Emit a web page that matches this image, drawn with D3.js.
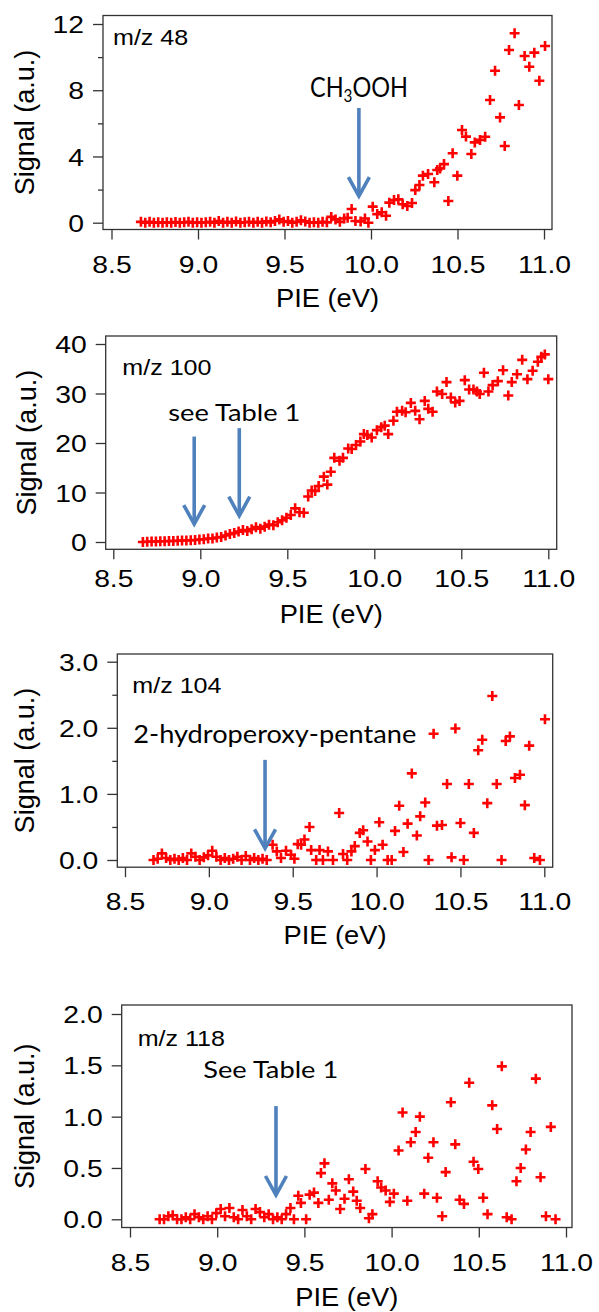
<!DOCTYPE html>
<html>
<head>
<meta charset="utf-8">
<script src="https://cdn.jsdelivr.net/npm/d3@7"></script>
<style>
body { margin: 0; background: #fff; }
</style>
</head>
<body>
<div id="chart"></div>
<script>
// ---- data (PIE in eV, signal in a.u.) ----
var pie48 = [8.67, 8.695, 8.72, 8.745, 8.77, 8.795, 8.82, 8.845, 8.87, 8.895, 8.92, 8.945, 8.97, 8.995, 9.02, 9.045, 9.07, 9.095, 9.12, 9.145, 9.17, 9.195, 9.22, 9.245, 9.27, 9.295, 9.32, 9.345, 9.37, 9.395, 9.42, 9.445, 9.47, 9.495, 9.52, 9.545, 9.57, 9.595, 9.62, 9.645, 9.67, 9.695, 9.72, 9.745, 9.77, 9.795, 9.82, 9.845, 9.865,
  9.888, 9.91, 9.94, 9.965, 9.985,
  10.01, 10.036, 10.062, 10.087, 10.106, 10.133, 10.158, 10.183, 10.21, 10.237, 10.256, 10.28, 10.30, 10.33, 10.366, 10.383, 10.399, 10.422, 10.447, 10.472, 10.499, 10.526, 10.549, 10.58, 10.60, 10.63, 10.66, 10.688, 10.717, 10.746, 10.773, 10.798, 10.83, 10.855, 10.888, 10.915, 10.944, 10.973, 11.006];
var sig48 = [0.05, 0, 0.05, 0, 0.03, 0, 0.02, 0, 0.04, 0, 0.02, 0.05, 0, 0.03, 0, 0.02, 0.05, 0, 0.1, 0, 0.05, 0, 0.08, 0, 0.03, 0.05, 0, 0.05, 0, 0.08, 0.02, 0.1, 0.2, 0.05, 0.1, 0, 0.05, 0.15, 0.08, 0, 0.03, 0, 0.05, 0.02, 0.35, 0.2, 0.05, 0.25, 0.3,
  0.83, 0.1, 0.08, 0.25, 0.0,
  0.97, 0.52, 0.63, 0.42, 1.21, 1.37, 1.41, 1.11, 1.01, 1.19, 1.97, 2.28, 2.84, 2.94, 2.44, 3.18, 3.28, 3.54, 1.31, 4.19, 2.84, 5.6, 5.2, 4.15, 4.85, 5.0, 5.19, 7.41, 9.18, 6.36, 4.63, 10.43, 11.44, 7.11, 10.07, 9.42, 10.27, 8.57, 10.67];

var pie100 = [8.67, 8.695, 8.72, 8.745, 8.77, 8.795, 8.82, 8.845, 8.87, 8.895, 8.92, 8.945, 8.97, 8.995, 9.02, 9.045, 9.07, 9.095, 9.12, 9.145, 9.17, 9.195, 9.22, 9.245, 9.27, 9.295, 9.32, 9.345, 9.37, 9.395, 9.42, 9.445, 9.47, 9.495, 9.52, 9.545, 9.57, 9.595, 9.62,
  9.64, 9.66, 9.68, 9.71, 9.73, 9.75, 9.77, 9.80, 9.82, 9.85, 9.87, 9.895, 9.92, 9.94, 9.96, 9.985, 10.015, 10.04, 10.06, 10.08, 10.11, 10.13, 10.16, 10.18, 10.21, 10.235, 10.26, 10.29, 10.31, 10.335, 10.36, 10.39, 10.415, 10.44, 10.465, 10.49, 10.52, 10.545, 10.57, 10.59, 10.606, 10.63, 10.656, 10.68, 10.71, 10.74, 10.77, 10.79, 10.82, 10.85, 10.88, 10.91, 10.94, 10.96, 10.98, 11.0];
var sig100 = [0, 0.05, 0.1, 0.1, 0.15, 0.15, 0.2, 0.2, 0.25, 0.3, 0.3, 0.35, 0.4, 0.5, 0.55, 0.7, 0.7, 0.9, 1.0, 1.3, 1.6, 1.8, 2.1, 2.4, 2.2, 2.6, 3.0, 2.7, 3.1, 3.5, 3.4, 4.0, 4.4, 4.9, 5.45, 6.8, 6.0, 5.9, 9.2,
  10.4, 10.3, 11.3, 13.2, 11.6, 14.2, 17.0, 16.4, 17.0, 18.9, 18.8, 19.6, 20.3, 21.8, 21.6, 21.1, 22.6, 23.2, 23.5, 21.8, 24.5, 26.3, 26.5, 26.2, 28.1, 26.5, 24.8, 28.5, 26.9, 26.3, 30.4, 29.9, 32.3, 29.2, 28.2, 28.5, 32.7, 30.8, 30.8, 30.4, 29.9, 34.2, 30.4, 31.7, 32.5, 34.7, 29.6, 32.3, 33.9, 36.8, 32.9, 34.6, 36.4, 37.4, 37.9, 32.9];

var pie104 = [8.67, 8.695, 8.72, 8.745, 8.77, 8.795, 8.82, 8.845, 8.87, 8.895, 8.92, 8.945, 8.97, 8.995, 9.02, 9.045, 9.07, 9.095, 9.12, 9.145, 9.17, 9.195, 9.22, 9.245, 9.27, 9.295, 9.32, 9.345,
  9.38, 9.405, 9.43, 9.46, 9.49, 9.51, 9.53, 9.55, 9.57, 9.60, 9.61, 9.64, 9.66, 9.68, 9.71, 9.74, 9.777, 9.80, 9.825, 9.85, 9.87, 9.90, 9.92, 9.946, 9.966, 9.99, 10.016, 10.036, 10.066, 10.09, 10.11, 10.135, 10.16, 10.185, 10.21, 10.24, 10.26, 10.29, 10.31, 10.34, 10.36, 10.39, 10.42, 10.447, 10.47, 10.50, 10.52, 10.55, 10.58, 10.606, 10.63, 10.66, 10.69, 10.716, 10.745, 10.77, 10.795, 10.825, 10.855, 10.884, 10.91, 10.94, 10.974, 11.004];
var sig104 = [0.0, 0.02, 0.1, 0.03, 0.0, 0.02, 0.0, 0.03, 0.0, 0.1, 0.05, 0.0, 0.04, 0.07, 0.14, 0.05, 0.0, 0.03, 0.0, 0.02, 0.05, 0.0, 0.06, 0.0, 0.03, 0.0, 0.02, 0.0,
  0.23, 0.13, 0.03, 0.14, 0.08, 0.02, 0.24, 0.23, 0.31, 0.50, 0.15, 0.0, 0.15, 0.0, 0.13, 0.0, 0.71, 0.09, 0.0, 0.13, 0.21, 0.41, 0.45, 0.28, 0.0, 0.15, 0.57, 0.23, 0.0, 0.0, 0.44, 0.82, 0.12, 0.55, 1.31, 0.37, 0.66, 0.87, 0.0, 1.91, 0.52, 0.53, 1.15, 0.04, 1.99, 0.56, 0.0, 1.15, 0.41, 1.66, 1.82, 0.86, 2.48, 1.15, 0.0, 1.80, 1.87, 1.24, 1.29, 0.83, 1.73, 0.03, 0.0, 2.13];

var pie118 = [8.67, 8.695, 8.72, 8.745, 8.77, 8.795, 8.82, 8.845, 8.87, 8.895, 8.92, 8.945, 8.97, 8.995, 9.02, 9.045, 9.07, 9.095, 9.12, 9.145, 9.17, 9.195, 9.22, 9.245, 9.27, 9.295, 9.32, 9.345, 9.37, 9.395,
  9.42, 9.44, 9.465, 9.48, 9.51, 9.53, 9.555, 9.58, 9.595, 9.615, 9.64, 9.66, 9.68, 9.705, 9.73, 9.755, 9.78, 9.80, 9.82, 9.85, 9.87, 9.89, 9.92, 9.94, 9.966, 9.99, 10.013, 10.04, 10.063, 10.09, 10.11, 10.138, 10.162, 10.187, 10.21, 10.24, 10.26, 10.29, 10.31, 10.34, 10.365, 10.39, 10.415, 10.445, 10.47, 10.497, 10.525, 10.55, 10.577, 10.605, 10.632, 10.66, 10.688, 10.716, 10.74, 10.77, 10.797, 10.827, 10.854, 10.885, 10.913, 10.94];
var sig118 = [0.0, 0.0, 0.03, 0.04, 0.0, 0.0, 0.02, 0.0, 0.05, 0.02, 0.0, 0.03, 0.0, 0.06, 0.1, 0.03, 0.11, 0.02, 0.0, 0.09, 0.03, 0.0, 0.1, 0.07, 0.02, 0.05, 0.0, 0.02, 0.0, 0.05,
  0.11, 0.0, 0.23, 0.16, 0.0, 0.24, 0.26, 0.16, 0.45, 0.545, 0.19, 0.35, 0.28, 0.10, 0.20, 0.39, 0.27, 0.18, 0.11, 0.49, 0.01, 0.05, 0.37, 0.31, 0.28, 0.17, 0.25, 0.67, 1.04, 0.18, 0.75, 0.85, 1.00, 0.25, 0.60, 0.75, 0.21, 0.03, 0.46, 1.14, 0.73, 0.19, 0.15, 1.33, 0.56, 0.49, 0.21, 0.05, 1.11, 0.88, 1.49, 0.02, 0.0, 0.37, 0.50, 0.68, 0.85, 1.37, 0.41, 0.03, 0.90, 0.0];

var pieTicks = [8.5, 9.0, 9.5, 10.0, 10.5, 11.0];
var ticks48 = [0, 4, 8, 12], minor48 = [2, 6, 10];
var ticks100 = [0, 10, 20, 30, 40];
var ticks104 = [0, 1, 2, 3], minor104 = [0.5, 1.5, 2.5];
var ticks118 = [0, 0.5, 1, 1.5, 2];

// arrows: [PIE, signal at tail, signal at tip]
var arrows48 = [[9.93, 6.93, 1.55]];
var arrows100 = [[8.965, 21.3, 3.43], [9.224, 23.0, 5.11]];
var arrows104 = [[9.335, 1.515, 0.162]];
var arrows118 = [[9.337, 1.103, 0.227]];

// ---- layout ----
var W = 599, H = 1312;
var axisFont = "'Liberation Sans', Arial, sans-serif";
var noteFont = "Lato, 'Open Sans', sans-serif";
var red = "#ff0000", blue = "#4f81bd", ink = "#333";

var panels = [
  {name: "m/z 48", pie: pie48, sig: sig48, ticks: ticks48, minor: minor48, fmt: d3.format("d"), yd: [0, 12],
   frame: [103, 552, 15.5, 229.5], xr: [111.5, 544], yr: [222.7, 24], nameAt: [113, 45], labOff: 43, titleOff: 77, ytX: 34,
   arrows: arrows48, note: {text: "CH|3|OOH", x: 310, y: 97.3, w: 98, size: 26}},
  {name: "m/z 100", pie: pie100, sig: sig100, ticks: ticks100, minor: [], fmt: d3.format("d"), yd: [0, 40],
   frame: [105.7, 556.7, 336, 549.3], xr: [113.3, 548.3], yr: [542, 344], nameAt: [122.3, 375], labOff: 38, titleOff: 74, ytX: 36,
   arrows: arrows100, note: {text: "see Table 1", x: 168.3, y: 420.7, w: 132, size: 24}},
  {name: "m/z 104", pie: pie104, sig: sig104, ticks: ticks104, minor: minor104, fmt: d3.format(".1f"), yd: [0, 3],
   frame: [117.3, 552.7, 654, 867.2], xr: [125, 544.3], yr: [860, 661.7], nameAt: [132.3, 693.3], labOff: 42.5, titleOff: 76.5, ytX: 34,
   arrows: arrows104, note: {text: "2-hydroperoxy-pentane", x: 133.3, y: 743.3, w: 283, size: 25}},
  {name: "m/z 118", pie: pie118, sig: sig118, ticks: ticks118, minor: [], fmt: d3.format(".1f"), yd: [0, 2],
   frame: [121.7, 572, 1005, 1227.5], xr: [130, 566], yr: [1219.3, 1014], nameAt: [137.7, 1045.7], labOff: 43.5, titleOff: 78.5, ytX: 34,
   arrows: arrows118, note: {text: "See Table 1", x: 203.3, y: 1078.3, w: 135, size: 24}}
];

var svg = d3.select("#chart").append("svg")
  .attr("width", W)
  .attr("height", H)
  .style("display", "block");

function txt(g, x, y, s, size, anchor, sx, family) {
  return g.append("text")
    .attr("transform", "translate(" + x + "," + y + ") scale(" + sx + ",1)")
    .attr("text-anchor", anchor)
    .attr("fill", "#000")
    .style("font-family", family)
    .style("font-size", size + "px")
    .text(s);
}

panels.forEach(function(p) {
  var f = p.frame;
  var x = d3.scaleLinear().domain([8.5, 11]).range(p.xr);
  var y = d3.scaleLinear().domain(p.yd).range(p.yr);
  var g = svg.append("g");

  // frame
  g.append("rect")
    .attr("x", f[0]).attr("y", f[2])
    .attr("width", f[1] - f[0]).attr("height", f[3] - f[2])
    .attr("fill", "none").attr("stroke", ink).attr("stroke-width", 1.3);

  // x axis
  var gx = g.append("g")
    .attr("transform", "translate(0," + f[3] + ")")
    .attr("color", ink)
    .call(d3.axisBottom(x).tickValues(pieTicks).tickSize(10).tickFormat(d3.format(".1f")));
  gx.select(".domain").remove();
  gx.selectAll("line").attr("stroke-width", 1.3);
  gx.selectAll("text")
    .attr("y", null).attr("dy", null)
    .attr("transform", "translate(0," + p.labOff + ") scale(1.18,1)")
    .attr("fill", "#000")
    .style("font-family", axisFont).style("font-size", "24px");

  // y axis
  var gy = g.append("g")
    .attr("transform", "translate(" + f[0] + ",0)")
    .attr("color", ink)
    .call(d3.axisLeft(y).tickValues(p.ticks).tickSize(10).tickFormat(p.fmt));
  gy.select(".domain").remove();
  gy.selectAll("line").attr("stroke-width", 1.3);
  gy.selectAll("text")
    .attr("x", null).attr("dy", "0.36em")
    .attr("transform", "translate(-19,0) scale(1.18,1)")
    .attr("fill", "#000")
    .style("font-family", axisFont).style("font-size", "24px");

  if (p.minor.length) {
    var gm = g.append("g")
      .attr("transform", "translate(" + f[0] + ",0)")
      .attr("color", ink)
      .call(d3.axisLeft(y).tickValues(p.minor).tickSize(5).tickFormat(""));
    gm.select(".domain").remove();
    gm.selectAll("line").attr("stroke-width", 1.3);
  }

  // axis titles
  txt(g, (f[0] + f[1]) / 2, f[3] + p.titleOff, "PIE (eV)", 26, "middle", 1.05, axisFont);
  g.append("text")
    .attr("transform", "translate(" + p.ytX + "," + ((f[2] + f[3]) / 2) + ") rotate(-90)")
    .attr("text-anchor", "middle")
    .style("font-family", axisFont).style("font-size", "27px")
    .text("Signal (a.u.)");

  // mass label
  txt(g, p.nameAt[0], p.nameAt[1], p.name, 22, "start", 1.14, axisFont);

  // points
  var pts = d3.zip(p.pie, p.sig);
  g.selectAll(".pt")
    .data(pts)
    .enter()
    .append("path")
    .attr("class", "pt")
    .attr("transform", function(d) { return "translate(" + x(d[0]) + "," + y(d[1]) + ")"; })
    .attr("d", "M-5,0H5M0,-5V5")
    .attr("stroke", red)
    .attr("stroke-width", 2.6)
    .attr("fill", "none");

  // arrows
  p.arrows.forEach(function(a) {
    var ax = x(a[0]), y1 = y(a[1]), y2 = y(a[2]);
    g.append("line")
      .attr("x1", ax).attr("x2", ax).attr("y1", y1).attr("y2", y2 - 2)
      .attr("stroke", blue).attr("stroke-width", 3.6);
    g.append("path")
      .attr("d", "M" + (ax - 10.5) + "," + (y2 - 20) + "L" + ax + "," + (y2 - 1) + "L" + (ax + 10.5) + "," + (y2 - 20))
      .attr("fill", "none").attr("stroke", blue).attr("stroke-width", 3.6)
      .attr("stroke-linejoin", "miter");
  });

  // annotation text, stretched to the width seen in the figure
  var n = p.note;
  var t = g.append("text")
    .attr("fill", "#000")
    .style("font-family", noteFont).style("font-size", n.size + "px");
  var parts = n.text.split("|");
  if (parts.length === 3) {
    t.append("tspan").text(parts[0]);
    t.append("tspan").attr("dy", 5).style("font-size", (n.size * 0.65) + "px").text(parts[1]);
    t.append("tspan").attr("dy", -5).text(parts[2]);
  } else {
    t.text(n.text);
  }
  var len = t.node().getComputedTextLength();
  t.attr("transform", "translate(" + n.x + "," + n.y + ") scale(" + (n.w / len) + ",1)");
});
</script>
</body>
</html>
